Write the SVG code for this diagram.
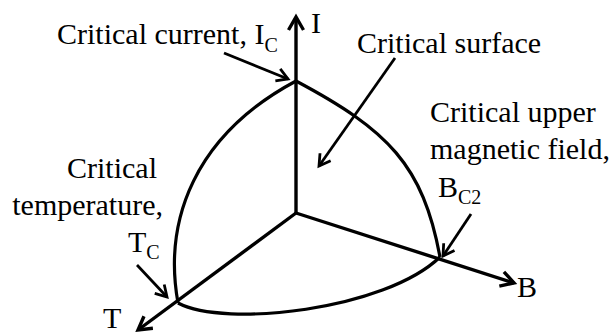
<svg xmlns="http://www.w3.org/2000/svg" width="613" height="333" viewBox="0 0 613 333">
  <style>
    .ax { stroke: #000; stroke-width: 3.4; fill: none; }
    .cv { stroke: #000; stroke-width: 3.2; fill: none; }
    .pt { stroke: #000; stroke-width: 2.8; fill: none; }
    text { font-family: "Times New Roman", "Liberation Serif", Tinos, "DejaVu Serif", serif; font-size: 30px; fill: #000; }
    .sub { font-size: 20px; }
  </style>
  <defs>
    <marker id="headBig" markerUnits="userSpaceOnUse" viewBox="-16 -10 20 20" refX="0" refY="0" markerWidth="20" markerHeight="20" orient="auto">
      <path d="M-13,-7.5 L0,0 L-13,7.5" fill="none" stroke="#000" stroke-width="3.4"/>
    </marker>
    <marker id="headSmall" markerUnits="userSpaceOnUse" viewBox="-16 -10 20 20" refX="0" refY="0" markerWidth="20" markerHeight="20" orient="auto">
      <path d="M-11,-6.5 L0,0 L-11,6.5" fill="none" stroke="#000" stroke-width="2.8"/>
    </marker>
  </defs>

  <g id="surface">
    <path class="cv" d="M296,81 C388,130 423,165 440,257"/>
    <path class="cv" d="M296,81 C195,135 163,220 178,303"/>
    <path class="cv" d="M178,303 C225,328 385,310 440,257"/>
  </g>

  <g id="axes">
    <line class="ax" x1="296" y1="213" x2="296" y2="17" marker-end="url(#headBig)"/>
    <line class="ax" x1="296" y1="213" x2="514" y2="283" marker-end="url(#headBig)"/>
    <line class="ax" x1="296" y1="213" x2="138" y2="330" marker-end="url(#headBig)"/>
  </g>

  <g id="connectors">
    <line class="pt" x1="224" y1="53" x2="288" y2="79" marker-end="url(#headSmall)"/>
    <line class="pt" x1="395" y1="58" x2="319" y2="166" marker-end="url(#headSmall)"/>
    <line class="pt" x1="471" y1="214" x2="443" y2="256" marker-end="url(#headSmall)"/>
    <line class="pt" x1="137" y1="265" x2="167" y2="297" marker-end="url(#headSmall)"/>
  </g>

  <g id="axis-I"><text x="311" y="33">I</text></g>
  <g id="axis-B"><text x="517" y="297">B</text></g>
  <g id="axis-T"><text x="103" y="328">T</text></g>

  <g id="critical-current">
    <text x="57" y="44">Critical current, I<tspan class="sub" dy="8">C</tspan></text>
  </g>
  <g id="critical-surface">
    <text x="357" y="53">Critical surface</text>
  </g>
  <g id="critical-field">
    <text x="430" y="122">Critical upper</text>
    <text x="430" y="159">magnetic field,</text>
    <text x="438" y="197">B<tspan class="sub" dy="7">C2</tspan></text>
  </g>
  <g id="critical-temperature">
    <text x="157" y="178" text-anchor="end">Critical</text>
    <text x="163" y="215" text-anchor="end">temperature,</text>
    <text x="128" y="252">T<tspan class="sub" dy="7">C</tspan></text>
  </g>
</svg>
